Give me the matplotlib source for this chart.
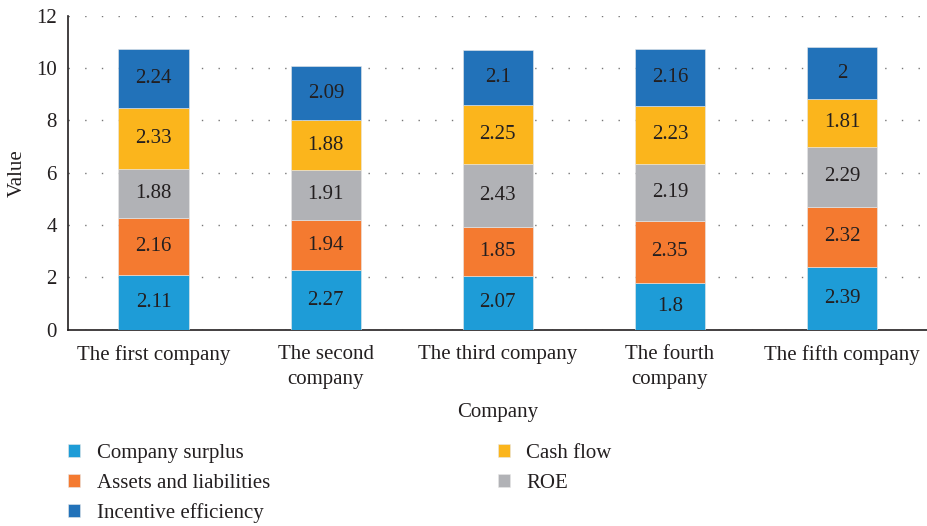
import matplotlib.pyplot as plt
import numpy as np

plt.rcParams['font.family'] = ['Liberation Serif', 'DejaVu Serif']

companies = ['The first company', 'The second\ncompany', 'The third company',
             'The fourth\ncompany', 'The fifth company']
surplus = [2.11, 2.27, 2.07, 1.8, 2.39]
assets = [2.16, 1.94, 1.85, 2.35, 2.32]
roe = [1.88, 1.91, 2.43, 2.19, 2.29]
cash_flow = [2.33, 1.88, 2.25, 2.23, 1.81]
incentive = [2.24, 2.09, 2.1, 2.16, 2]

series = [
    ('Company surplus', surplus, '#1e9cd7'),
    ('Assets and liabilities', assets, '#f47a30'),
    ('ROE', roe, '#b1b2b6'),
    ('Cash flow', cash_flow, '#fbb51c'),
    ('Incentive efficiency', incentive, '#2272b9'),
]

fs = 15
fig = plt.figure(figsize=(9.28, 5.26), dpi=100)
ax = fig.add_axes([0.073, 0.373, 0.927, 0.597])

x = np.arange(len(companies))
bottom = np.zeros(len(companies))
handles = {}
for name, vals, color in series:
    vals = np.array(vals)
    bars = ax.bar(x, vals, 0.41, bottom=bottom, color=color, edgecolor='#e8e8e8',
                  linewidth=0.4, zorder=3)
    handles[name] = bars
    for xi, b, v in zip(x, bottom, vals):
        ax.text(xi, b + v / 2, f'{v:g}', ha='center', va='center',
                fontsize=fs, color='#231f20', zorder=4)
    bottom += vals

ax.set_xlim(-0.5, 4.5)
ax.set_ylim(0, 12)
ax.set_yticks(range(0, 13, 2))
ax.set_xticks(x)
ax.set_xticklabels(companies, fontsize=fs, color='#231f20', linespacing=1.4)
ax.tick_params(axis='y', labelsize=fs, labelcolor='#231f20', length=0, pad=8)
ax.tick_params(axis='x', length=0, pad=11)
ax.yaxis.grid(True, linestyle=(0, (1, 11)), color='#777777', linewidth=1, zorder=0)
for s in ['top', 'right']:
    ax.spines[s].set_visible(False)
ax.spines['left'].set_color('#231f20')
ax.spines['bottom'].set_color('#231f20')
ax.spines['left'].set_linewidth(1.2)
ax.spines['bottom'].set_linewidth(1.2)

ax.set_xlabel('Company', fontsize=fs, color='#231f20', labelpad=10)
ax.set_ylabel('Value', fontsize=fs, color='#231f20')
ax.yaxis.set_label_coords(-0.048, 0.5)

order = ['Company surplus', 'Assets and liabilities', 'Incentive efficiency',
         'Cash flow', 'ROE']
leg = fig.legend([handles[n] for n in order], order, ncol=2, loc='upper left',
                 bbox_to_anchor=(0.058, 0.183), frameon=False, fontsize=fs,
                 handlelength=0.58, handleheight=0.58, handletextpad=0.77,
                 columnspacing=10.96, labelspacing=0.5, borderpad=0.2)
for t in leg.get_texts():
    t.set_color('#231f20')

fig.savefig('out.png', dpi=100)
